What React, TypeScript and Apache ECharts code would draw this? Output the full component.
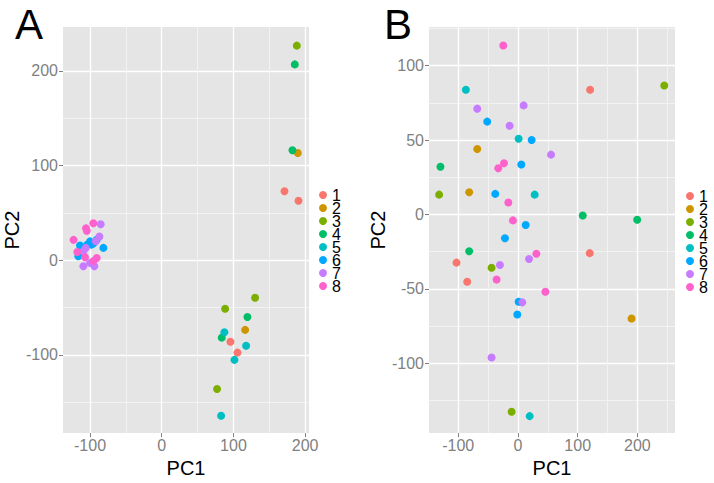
import React, { useEffect, useRef } from "react";
import * as echarts from "echarts";

// Group labels and the ggplot2 hue palette used for them
const groups = ["1", "2", "3", "4", "5", "6", "7", "8"];
const groupColors = ["#F8766D", "#CD9600", "#7CAE00", "#00BE67", "#00BFC4", "#00A9FF", "#C77CFF", "#FF61CC"];

// Tick labels
const ticksAX = [-100, 0, 100, 200];
const ticksAY = [-100, 0, 100, 200];
const ticksBX = [-100, 0, 100, 200];
const ticksBY = [-100, -50, 0, 50, 100];

// Panel A scores
const groupA = [
  "1", "1", "1", "1",
  "2", "2",
  "3", "3", "3", "3",
  "4", "4", "4", "4",
  "5", "5", "5", "5",
  "6", "6", "6", "6", "6", "6", "6", "6",
  "7", "7", "7", "7", "7", "7", "7", "7",
  "8", "8", "8", "8", "8", "8", "8", "8",
];
const pc1A = [
  171.2, 190.7, 95.8, 105.6,
  189.8, 116.3,
  188.4, 130.2, 88.4, 77.2,
  185.6, 182.3, 119.5, 83.7,
  87.4, 117.7, 101.4, 82.8,
  -114, -100, -95, -104, -90.7, -81.4, -116.3, -98,
  -85.1, -87, -109.3, -100, -109.3, -94, -92, -106,
  -95.4, -105.6, -104.5, -123, -117.7, -107, -90.7, -95.4,
];
const pc2A = [
  72.9, 62.8, -86.1, -97.6,
  113.3, -73.6,
  226.6, -39.7, -51.3, -136.0,
  206.8, 116.1, -60.0, -81.8,
  -76.0, -90.3, -105.3, -164.2,
  15.5, 19.9, 18, 16.3, 21.6, 13, 4.2, 16.5,
  38, 25, 9.4, -2.8, -6.3, -6.3, 20, 13,
  39, 33.8, 31, 21.5, 8.7, 3.1, 2.4, -1,
];

// Panel B scores
const groupB = [
  "1", "1", "1", "1",
  "2", "2", "2",
  "3", "3", "3", "3",
  "4", "4", "4", "4",
  "5", "5", "5", "5",
  "6", "6", "6", "6", "6", "6", "6", "6",
  "7", "7", "7", "7", "7", "7", "7", "7",
  "8", "8", "8", "8", "8", "8", "8", "8",
];
const pc1B = [
  120.8, 120.2, -102.9, -85,
  -68.2, -81.7, 190.2,
  245, -132, -44.2, -10.6,
  -129.8, 108.5, 199.7, -81.7,
  -87.2, 1.1, 28, 19.6,
  -51.5, 22.9, 5.6, -38, 12.9, -21.8, 1.1, -1.1,
  -68.2, 9.5, -14, 55.4, 18.5, -30.2, 7.3, -44.2,
  -24.6, -23.5, -33, -16.2, -8.4, 30.8, -35.8, 45.9,
];
const pc2B = [
  83.8, -26, -32.4, -45.3,
  44, 14.9, -70,
  86.7, 13.3, -35.8, -132.7,
  32, -0.7, -3.6, -24.7,
  83.8, 50.9, 13.3, -135.6,
  62.4, 50, 33.6, 13.8, -7.1, -16, -58.7, -67.3,
  71.1, 73.3, 59.6, 40.2, -30, -34, -59.1, -96.2,
  113.6, 34.4, 31.1, 8, -4, -26.4, -43.8, -52,
];

const FONT = "'Liberation Sans', Arial, sans-serif";

function pointsFor(g: string, grp: string[], xs: number[], ys: number[]) {
  const out: number[][] = [];
  grp.forEach((v, i) => {
    if (v === g) out.push([xs[i], ys[i]]);
  });
  return out;
}

function valueAxis(
  idx: number,
  min: number,
  max: number,
  split: number,
  ticks: number[],
  name: string,
  isX: boolean
) {
  return {
    type: "value",
    gridIndex: idx,
    position: isX ? "bottom" : "left",
    min,
    max,
    splitNumber: split,
    name,
    nameLocation: "middle",
    nameGap: isX ? 19 : 35,
    nameTextStyle: { color: "#000", fontSize: 20, fontFamily: FONT },
    axisLine: { show: false, onZero: false },
    axisTick: { show: true, length: 4, lineStyle: { color: "#7F7F7F", width: 1 }, customValues: ticks },
    axisLabel: {
      color: "#7F7F7F",
      fontSize: 16,
      fontFamily: FONT,
      margin: isX ? 4 : 5,
      customValues: ticks,
      showMinLabel: true,
      showMaxLabel: true,
    },
    splitLine: { show: true, lineStyle: { color: "#FFFFFF", width: 1.3 } },
    minorTick: { show: false, splitNumber: 2 },
    minorSplitLine: { show: true, lineStyle: { color: "#F2F2F2", width: 1 } },
  };
}

export default function App() {
  const ref = useRef<HTMLDivElement>(null);

  useEffect(() => {
    document.body.style.margin = "0";
    if (!ref.current) return;
    const chart = echarts.init(ref.current, null, { renderer: "svg" });

    const series: any[] = [];
    groups.forEach((g, i) => {
      series.push({
        type: "scatter",
        name: g,
        xAxisIndex: 0,
        yAxisIndex: 0,
        symbolSize: 8,
        itemStyle: { color: groupColors[i], opacity: 1 },
        data: pointsFor(g, groupA, pc1A, pc2A),
      });
    });
    groups.forEach((g, i) => {
      series.push({
        type: "scatter",
        name: g,
        xAxisIndex: 1,
        yAxisIndex: 1,
        symbolSize: 8,
        itemStyle: { color: groupColors[i], opacity: 1 },
        data: pointsFor(g, groupB, pc1B, pc2B),
      });
    });

    const legendBase = {
      orient: "vertical",
      data: groups,
      icon: "circle",
      itemWidth: 8,
      itemHeight: 8,
      itemGap: -3,
      padding: 0,
      selectedMode: false,
      textStyle: { color: "#000", fontSize: 16, fontFamily: FONT },
    };

    chart.setOption({
      animation: false,
      backgroundColor: "#FFFFFF",
      title: [
        { text: "A", left: 15, top: 3, padding: 0, textStyle: { fontSize: 42, fontWeight: "normal", color: "#000", fontFamily: FONT } },
        { text: "B", left: 384, top: 3, padding: 0, textStyle: { fontSize: 42, fontWeight: "normal", color: "#000", fontFamily: FONT } },
      ],
      legend: [
        { ...legendBase, left: 319, top: 187 },
        { ...legendBase, left: 686, top: 188 },
      ],
      grid: [
        { left: 63, top: 27, width: 246, height: 410, show: true, backgroundColor: "#E5E5E5", borderWidth: 0 },
        { left: 429, top: 27, width: 246, height: 410, show: true, backgroundColor: "#E5E5E5", borderWidth: 0 },
      ],
      xAxis: [
        valueAxis(0, -137.7, 205.4, 4, ticksAX, "PC1", true),
        valueAxis(1, -149, 263, 4, ticksBX, "PC1", true),
      ],
      yAxis: [
        valueAxis(0, -182.6, 246.3, 5, ticksAY, "PC2", false),
        valueAxis(1, -147, 126, 5, ticksBY, "PC2", false),
      ],
      series,
    });

    return () => chart.dispose();
  }, []);

  return <div ref={ref} style={{ width: 714, height: 483 }} />;
}
